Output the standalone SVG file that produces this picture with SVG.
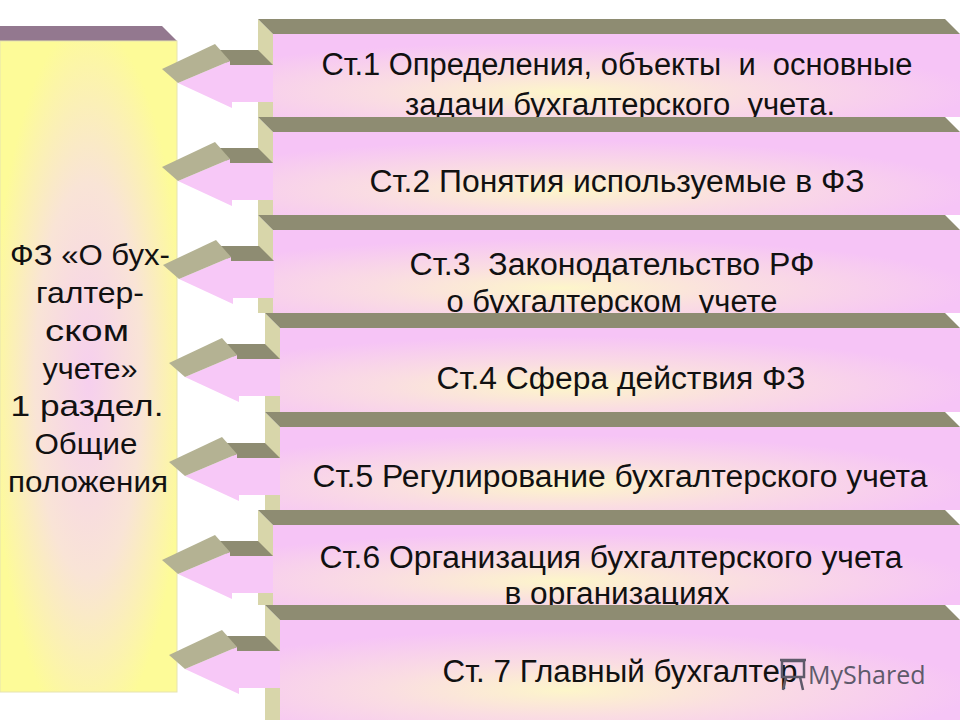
<svg xmlns="http://www.w3.org/2000/svg" width="960" height="720" viewBox="0 0 960 720">
  <style>
    .topface { fill: #8E8C72; }
    .sideface { fill: #D8D6AA; }
    .front { fill: url(#pinkfront); }
    .t { font-family: "Liberation Sans", Arial, sans-serif; font-size: 31px; fill: #111; text-anchor: middle; white-space: pre; }
    .lt { font-family: "Liberation Sans", Arial, sans-serif; font-size: 30px; fill: #111; text-anchor: middle; }
    .arr-shaft { fill: #8E8C72; }
    .arr-head { fill: #B4B293; }
    .arr-body { fill: #F7C8F7; }
    .wm { font-family: "Open Sans", "Liberation Sans", sans-serif; font-size: 25px; fill: #5E5A6A; }
  </style>
  <defs>
    <radialGradient id="pinkfront" cx="0.42" cy="0.7" r="0.6">
      <stop offset="0" stop-color="#FDF6CA"/>
      <stop offset="0.45" stop-color="#FADDE2"/>
      <stop offset="1" stop-color="#F6C4F6"/>
    </radialGradient>
    <radialGradient id="yellowfront" cx="0.5" cy="0.52" r="0.55">
      <stop offset="0" stop-color="#F6CFEE"/>
      <stop offset="0.55" stop-color="#F9E4D6"/>
      <stop offset="1" stop-color="#FDFB98"/>
    </radialGradient>
    <g id="arrow">
      <polygon class="arr-shaft" points="-40,31 0,31 15,46 -30,46"/>
      <polygon class="arr-body" points="-80,64 -28,42 -28,46 15,46 15,83 -26,83 -26,89"/>
      <polygon class="arr-head" points="-96,50 -43,25 -28,42 -80,64"/>
    </g>
  </defs>

  <rect x="0" y="0" width="960" height="720" fill="#FFFFFF"/>

  <g id="node-fz">
    <polygon points="0,26 162,26 177,41 0,41" fill="#93788F"/>
    <rect x="0" y="41" width="177" height="651" fill="url(#yellowfront)" stroke="#E6E3B0" stroke-width="1"/>
    <text class="lt" x="90" y="265" textLength="160" lengthAdjust="spacingAndGlyphs">ФЗ «О бух-</text>
    <text class="lt" x="90" y="303" textLength="108" lengthAdjust="spacingAndGlyphs">галтер-</text>
    <text class="lt" x="87" y="341" textLength="84" lengthAdjust="spacingAndGlyphs">ском</text>
    <text class="lt" x="90" y="379" textLength="95" lengthAdjust="spacingAndGlyphs">учете»</text>
    <text class="lt" x="87" y="416" textLength="153" lengthAdjust="spacingAndGlyphs">1 раздел.</text>
    <text class="lt" x="86" y="454" textLength="103" lengthAdjust="spacingAndGlyphs">Общие</text>
    <text class="lt" x="88" y="492" textLength="160" lengthAdjust="spacingAndGlyphs">положения</text>
  </g>

  <g id="node-st1">
    <rect class="front" x="273" y="34" width="687" height="83"/>
    <polygon class="sideface" points="258,19 273,34 273,117 258,117"/>
    <polygon class="topface" points="258,19 945,19 960,34 273,34"/>
    <text class="t" x="617" y="75" textLength="591" lengthAdjust="spacingAndGlyphs">Ст.1 Определения, объекты  и  основные</text>
    <text class="t" x="620" y="115" textLength="430" lengthAdjust="spacingAndGlyphs">задачи бухгалтерского  учета.</text>
  </g>

  <g id="node-st2">
    <rect class="front" x="273" y="132" width="687" height="83"/>
    <polygon class="sideface" points="258,117 273,132 273,215 258,215"/>
    <polygon class="topface" points="258,117 945,117 960,132 273,132"/>
    <text class="t" x="617" y="192" textLength="495" lengthAdjust="spacingAndGlyphs">Ст.2 Понятия используемые в ФЗ</text>
  </g>

  <g id="node-st3">
    <rect class="front" x="273" y="230" width="687" height="83"/>
    <polygon class="sideface" points="258,215 273,230 273,313 258,313"/>
    <polygon class="topface" points="258,215 945,215 960,230 273,230"/>
    <text class="t" x="612" y="275" textLength="405" lengthAdjust="spacingAndGlyphs">Ст.3  Законодательство РФ</text>
    <text class="t" x="612" y="312" textLength="331" lengthAdjust="spacingAndGlyphs">о бухгалтерском  учете</text>
  </g>

  <g id="node-st4">
    <rect class="front" x="280" y="328" width="680" height="84"/>
    <polygon class="sideface" points="265,313 280,328 280,412 265,412"/>
    <polygon class="topface" points="265,313 945,313 960,328 280,328"/>
    <text class="t" x="621" y="389" textLength="369" lengthAdjust="spacingAndGlyphs">Ст.4 Сфера действия ФЗ</text>
  </g>

  <g id="node-st5">
    <rect class="front" x="280" y="427" width="680" height="83"/>
    <polygon class="sideface" points="265,412 280,427 280,510 265,510"/>
    <polygon class="topface" points="265,412 945,412 960,427 280,427"/>
    <text class="t" x="620" y="487" textLength="615" lengthAdjust="spacingAndGlyphs">Ст.5 Регулирование бухгалтерского учета</text>
  </g>

  <g id="node-st6">
    <rect class="front" x="273" y="525" width="687" height="80"/>
    <polygon class="sideface" points="258,510 273,525 273,605 258,605"/>
    <polygon class="topface" points="258,510 945,510 960,525 273,525"/>
    <text class="t" x="611" y="568" textLength="583" lengthAdjust="spacingAndGlyphs">Ст.6 Организация бухгалтерского учета</text>
    <text class="t" x="617" y="604" textLength="225" lengthAdjust="spacingAndGlyphs">в организациях</text>
  </g>

  <g id="node-st7">
    <rect class="front" x="280" y="620" width="680" height="100"/>
    <polygon class="sideface" points="265,605 280,620 280,720 265,720"/>
    <polygon class="topface" points="265,605 945,605 960,620 280,620"/>
    <text class="t" x="620" y="682" textLength="355" lengthAdjust="spacingAndGlyphs">Ст. 7 Главный бухгалтер</text>
  </g>

  <g id="connectors">
    <use href="#arrow" x="258" y="19"/>
    <use href="#arrow" x="258" y="117"/>
    <use href="#arrow" x="259" y="215"/>
    <use href="#arrow" x="265" y="313"/>
    <use href="#arrow" x="265" y="412"/>
    <use href="#arrow" x="258" y="510"/>
    <use href="#arrow" x="265" y="605"/>
  </g>

  <g id="watermark">
    <g fill="none" stroke="#5E5A6A" stroke-width="2.5">
      <rect x="782" y="661" width="22" height="16"/>
      <line x1="786" y1="677" x2="783" y2="690"/>
      <line x1="800" y1="677" x2="803" y2="690"/>
      <line x1="780" y1="660" x2="806" y2="660"/>
    </g>
    <text class="wm" x="808" y="684">MyShared</text>
  </g>
</svg>
